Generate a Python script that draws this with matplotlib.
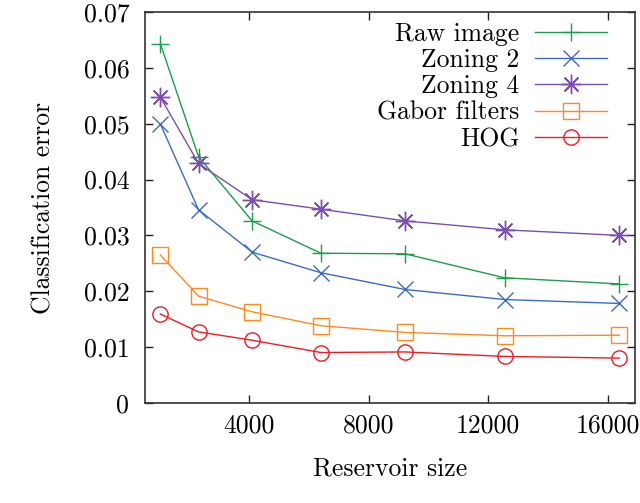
import matplotlib
matplotlib.use("Agg")
import matplotlib.pyplot as plt
from matplotlib.ticker import FixedLocator, FuncFormatter

plt.rcParams['font.family'] = 'serif'
plt.rcParams['font.serif'] = ['cmr10', 'DejaVu Serif']
plt.rcParams['axes.formatter.use_mathtext'] = True
plt.rcParams['mathtext.fontset'] = 'cm'

reservoir_size = [1024, 2304, 4096, 6400, 9216, 12544, 16384]
raw_image = [0.0644, 0.0441, 0.0326, 0.0268, 0.0267, 0.0224, 0.0213]
zoning_2 = [0.0500, 0.0346, 0.0270, 0.0233, 0.0203, 0.0185, 0.0178]
zoning_4 = [0.0548, 0.0429, 0.0364, 0.0347, 0.0326, 0.0310, 0.0300]
gabor = [0.0265, 0.0191, 0.0163, 0.0138, 0.0126, 0.0120, 0.0121]
hog = [0.0159, 0.0127, 0.0112, 0.0090, 0.0091, 0.0083, 0.0080]

labels = ["Raw image", "Zoning 2", "Zoning 4", "Gabor filters", "HOG"]
x_ticks = [4000, 8000, 12000, 16000]
y_ticks = [0, 0.01, 0.02, 0.03, 0.04, 0.05, 0.06, 0.07]

FS = 18.5

fig = plt.figure(figsize=(6.4, 5.03), dpi=100)
ax = fig.add_axes([0.226, 0.1994, 0.7657, 0.7761])

lw = 1.0
ax.plot(reservoir_size, raw_image, color='#1a9e4a', lw=lw, marker='+', ms=13, mew=lw, label=labels[0])
ax.plot(reservoir_size, zoning_2, color='#3b6cc0', lw=lw, marker='x', ms=11, mew=lw, label=labels[1])
ax.plot(reservoir_size, zoning_4, color='#7a4fb0', lw=lw, marker=(8, 2, 0), ms=14, mew=lw, label=labels[2])
ax.plot(reservoir_size, gabor, color='#ff8a1c', lw=lw, marker='s', ms=11, mew=lw, mfc='none', label=labels[3])
ax.plot(reservoir_size, hog, color='#ec1c24', lw=lw, marker='o', ms=11, mew=lw, mfc='none', label=labels[4])

ax.set_xlim(500, 16900)
ax.set_ylim(0, 0.07)
ax.xaxis.set_major_locator(FixedLocator(x_ticks))
ax.yaxis.set_major_locator(FixedLocator(y_ticks))
ax.xaxis.set_major_formatter(FuncFormatter(lambda v, p: "%d" % v))
ax.yaxis.set_major_formatter(FuncFormatter(lambda v, p: "0" if abs(v) < 1e-12 else ("%.2f" % v)))
ax.tick_params(direction='in', length=6, width=1.0, top=True, right=True, labelsize=FS,
               colors='#222222', labelcolor='black')
ax.tick_params(axis='y', pad=11)
ax.tick_params(axis='x', pad=8)
for s in ax.spines.values():
    s.set_linewidth(1.2)
    s.set_color('#333333')

ax.set_xlabel("Reservoir size", fontsize=FS, labelpad=14)
ax.set_ylabel("Classification error", fontsize=FS, labelpad=20)

leg = ax.legend(loc='upper right', frameon=False, markerfirst=False, fontsize=FS,
                handlelength=2.8, labelspacing=0.1, borderaxespad=0.0, borderpad=0.0,
                handletextpad=0.6, bbox_to_anchor=(0.9435, 0.975))

fig.savefig("out.png", dpi=100)
